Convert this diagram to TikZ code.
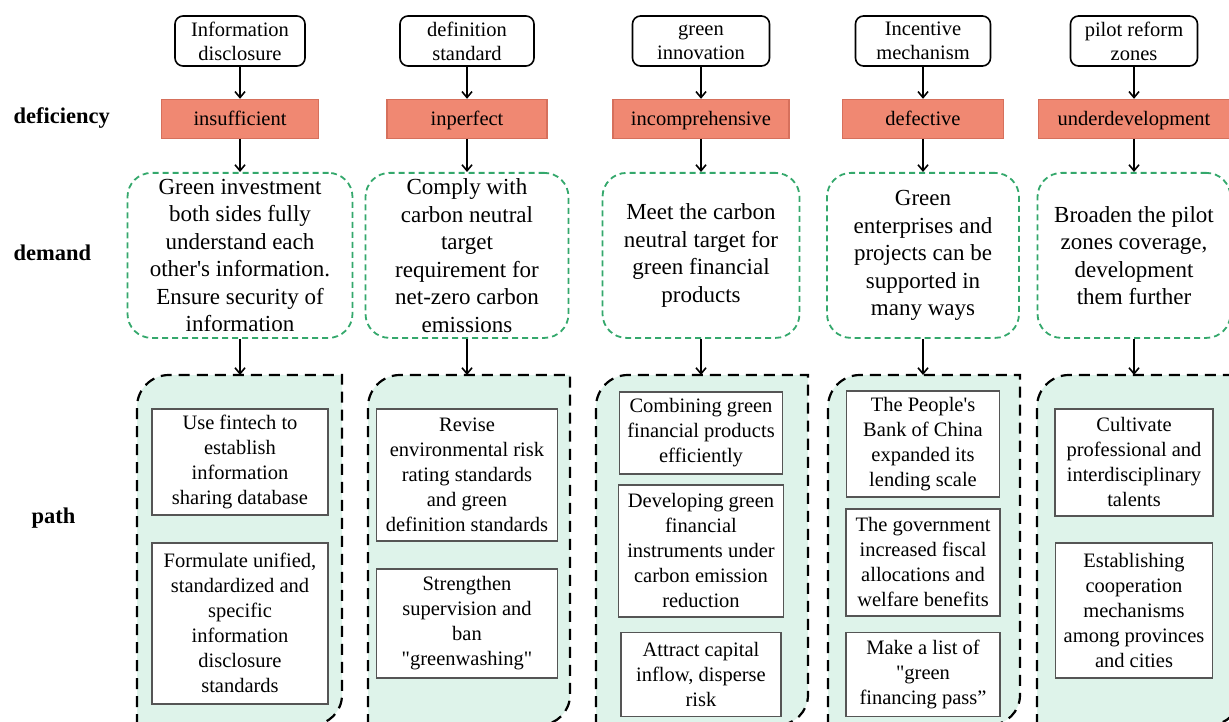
\documentclass[tikz,border=0pt]{standalone}
\usepackage{fontspec}
\setmainfont{Liberation Serif}
\usetikzlibrary{arrows.meta, positioning}

\definecolor{defred}{RGB}{240,136,114}
\definecolor{defline}{RGB}{214,112,92}
\definecolor{demgreen}{RGB}{52,168,108}
\definecolor{mint}{RGB}{222,243,234}
\definecolor{boxgray}{RGB}{85,85,85}

% dashed column behind the measures: left x, right x, name of top point, x of arrow
\newcommand{\pathcol}[4]{%
  \draw[pathbg] (#1,725) -- (#1,407) arc[start angle=180, end angle=270, radius=32]
    -- (#2,375) -- (#2,695) arc[start angle=0, end angle=90, radius=30] -- cycle;
  \coordinate (#3) at (#4,375);
}

\begin{document}
\begin{tikzpicture}[x=1pt, y=-1pt,
    font=\fontsize{20.5}{24}\selectfont,
    topic/.style={draw, line width=1.6pt, rounded corners=8pt, fill=white, align=center, inner xsep=2pt, inner ysep=1pt, minimum height=50pt},
    defi/.style={draw=defline, line width=1.2pt, fill=defred, inner sep=2pt, minimum height=39pt, text height=14.5pt, text depth=0.5pt},
    dem/.style={draw=demgreen, line width=1.8pt, dash pattern=on 6pt off 4pt, rounded corners=24pt, align=center, inner sep=3pt, minimum height=165pt, font=\fontsize{23}{27.5}\selectfont},
    meas/.style={draw=boxgray, line width=1.8pt, fill=white, align=center, inner sep=2pt, font=\fontsize{20.5}{25}\selectfont},
    pathbg/.style={draw, line width=2.2pt, dash pattern=on 11pt off 7pt, fill=mint},
    lbl/.style={font=\bfseries\fontsize{22.5}{26}\selectfont, anchor=west},
    fl/.style={-{Straight Barb[length=6pt, width=10pt]}, line width=1.6pt}
]
\useasboundingbox (0,0) rectangle (1229,722);

% ===== row labels =====
\node[lbl] (LDEF) at (10,118) {deficiency};
\node[lbl] (LDEM) at (10,253) {demand};
\node[lbl] (LPATH) at (28,518) {path};

% ===== topics =====
\node[topic, minimum width=130pt] (TOP1) at (240,41) {Information\\disclosure};
\node[topic, minimum width=134pt] (TOP2) at (467,41) {definition\\standard};
\node[topic, minimum width=137pt] (TOP3) at (701,41) {\vphantom{I}green\\innovation};
\node[topic, minimum width=135pt] (TOP4) at (923,41) {Incentive\\mechanism};
\node[topic, minimum width=127pt] (TOP5) at (1134,41) {pilot reform\\zones};

% ===== deficiency =====
\node[defi, minimum width=157pt, below=32pt of TOP1] (DEF1) {insufficient};
\node[defi, minimum width=160pt, below=32pt of TOP2] (DEF2) {inperfect};
\node[defi, minimum width=176pt, below=32pt of TOP3] (DEF3) {incomprehensive};
\node[defi, minimum width=161pt, below=32pt of TOP4] (DEF4) {defective};
\node[defi, minimum width=191pt, below=32pt of TOP5] (DEF5) {underdevelopment};

% ===== demand =====
\node[dem, minimum width=225pt, below=33pt of DEF1] (DEM1)
  {Green investment\\both sides fully\\understand each\\other\textquotesingle s information.\\Ensure security of\\information};
\node[dem, minimum width=203pt, below=33pt of DEF2] (DEM2)
  {Comply with\\carbon neutral\\target\\requirement for\\net-zero carbon\\emissions};
\node[dem, minimum width=197pt, below=33pt of DEF3] (DEM3)
  {Meet the carbon\\neutral target for\\green financial\\products};
\node[dem, minimum width=192pt, below=33pt of DEF4] (DEM4)
  {Green\\enterprises and\\projects can be\\supported in\\many ways};
\node[dem, minimum width=193pt, below=33pt of DEF5] (DEM5)
  {Broaden the pilot\\zones coverage,\\development\\them further};

% ===== path columns =====
\pathcol{137}{342}{PATH1}{240}
\pathcol{368}{570}{PATH2}{467}
\pathcol{596}{808}{PATH3}{701}
\pathcol{828}{1020}{PATH4}{923}
\pathcol{1037}{1240}{PATH5}{1134}

\node[meas, minimum width=176pt, minimum height=106pt, below=33pt of PATH1] (P1A)
  {Use fintech to\\establish\\information\\sharing database};
\node[meas, minimum width=176pt, minimum height=161pt, below=26pt of P1A] (P1B)
  {Formulate unified,\\standardized and\\specific\\information\\disclosure\\standards};

\node[meas, minimum width=181pt, minimum height=132pt, below=33pt of PATH2] (P2A)
  {Revise\\environmental risk\\rating standards\\and green\\definition standards};
\node[meas, minimum width=181pt, minimum height=109pt, below=26pt of P2A] (P2B)
  {Strengthen\\supervision and\\ban\\\textquotedbl greenwashing\textquotedbl};

\node[meas, minimum width=163pt, minimum height=82pt, below=16pt of PATH3] (P3A)
  {Combining green\\financial products\\efficiently};
\node[meas, minimum width=165pt, minimum height=132pt, below=9pt of P3A] (P3B)
  {Developing green\\financial\\instruments under\\carbon emission\\reduction};
\node[meas, minimum width=160pt, minimum height=84pt, below=14pt of P3B] (P3C)
  {Attract capital\\inflow, disperse\\risk};

\node[meas, minimum width=153pt, minimum height=106pt, below=15pt of PATH4] (P4A)
  {The People\textquotesingle s\\Bank of China\\expanded its\\lending scale};
\node[meas, minimum width=154pt, minimum height=107pt, below=10pt of P4A] (P4B)
  {The government\\increased fiscal\\allocations and\\welfare benefits};
\node[meas, minimum width=154pt, minimum height=84pt, below=15pt of P4B] (P4C)
  {Make a list of\\\textquotedbl green\\financing pass”};

\node[meas, minimum width=158pt, minimum height=107pt, below=33pt of PATH5] (P5A)
  {Cultivate\\professional and\\interdisciplinary\\talents};
\node[meas, minimum width=157pt, minimum height=135pt, below=25pt of P5A] (P5B)
  {Establishing\\cooperation\\mechanisms\\among provinces\\and cities};

% ===== arrows =====
\draw[fl] (TOP1.south) -- (DEF1.north);
\draw[fl] (TOP2.south) -- (DEF2.north);
\draw[fl] (TOP3.south) -- (DEF3.north);
\draw[fl] (TOP4.south) -- (DEF4.north);
\draw[fl] (TOP5.south) -- (DEF5.north);

\draw[fl] (DEF1.south) -- (DEM1.north);
\draw[fl] (DEF2.south) -- (DEM2.north);
\draw[fl] (DEF3.south) -- (DEM3.north);
\draw[fl] (DEF4.south) -- (DEM4.north);
\draw[fl] (DEF5.south) -- (DEM5.north);

\draw[fl] (DEM1.south) -- (PATH1);
\draw[fl] (DEM2.south) -- (PATH2);
\draw[fl] (DEM3.south) -- (PATH3);
\draw[fl] (DEM4.south) -- (PATH4);
\draw[fl] (DEM5.south) -- (PATH5);

\end{tikzpicture}
\end{document}
